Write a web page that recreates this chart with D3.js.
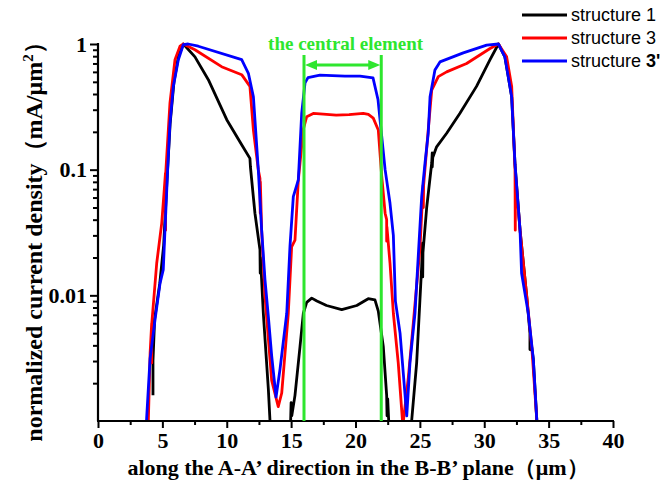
<!DOCTYPE html>
<html>
<head>
<meta charset="utf-8">
<script src="https://cdn.jsdelivr.net/npm/d3@7/dist/d3.min.js"></script>
<style>
  html, body { margin: 0; padding: 0; background: #fff; }
  svg { display: block; }
</style>
</head>
<body>
<svg id="chart" width="663" height="486"></svg>
<script>
// ---- data (x in µm, normalized current density) ----
const seriesNames = ["structure 1", "structure 3", "structure 3'"];
const seriesColors = ["#000000", "#ff0000", "#0000ff"];

const structure1 = [
  [4.27,0.0016],[4.27,0.003],[4.4,0.0065],[4.8,0.0125],[5.1,0.025],[5.35,0.08],[5.6,0.23],[5.9,0.5],[6.25,0.8],[6.63,1.0],
  [7.53,0.79],[8.57,0.52],[10.0,0.25],[11.16,0.158],[11.8,0.123],[11.84,0.105],[12.19,0.045],[12.58,0.023],[12.6,0.015],[12.62,0.02],
  [12.84,0.0072],[13.23,0.0018],[13.36,0.001],[13.4,0.0009],
  [14.95,0.0009],[15.0,0.0014],[15.05,0.0011],[15.3,0.0016],[15.69,0.0039],[15.95,0.0072],[16.21,0.0088],[16.6,0.0095],
  [17.0,0.009],[17.75,0.0083],[18.93,0.0077],[20.1,0.0083],[20.99,0.0094],[21.51,0.0092],[21.77,0.0075],[22.16,0.0039],
  [22.42,0.0016],[22.45,0.0011],[22.5,0.0015],[22.6,0.0009],
  [24.3,0.0009],[24.36,0.001],[24.75,0.0029],[25.14,0.017],[25.2,0.026],[25.22,0.014],[25.24,0.022],[25.53,0.05],[25.92,0.113],
  [25.96,0.136],[25.96,0.105],[26.0,0.125],[26.3,0.152],[27.08,0.195],[28.1,0.28],[29.4,0.46],[30.45,0.75],[31.1,1.0],
  [31.6,0.79],[32.13,0.38],[32.39,0.11],[32.78,0.033],[33.3,0.0098],[33.55,0.005],[33.55,0.0037],[33.6,0.0045],[33.81,0.0031],
  [34.07,0.00107],[34.1,0.0009]
];

const structure3 = [
  [3.88,0.0009],[3.91,0.001],[4.05,0.0035],[4.17,0.006],[4.17,0.0029],[4.18,0.006],[4.56,0.018],[4.95,0.0376],[5.15,0.07],
  [5.24,0.094],[5.25,0.033],[5.26,0.094],[5.59,0.34],[5.98,0.75],[6.37,0.96],[6.63,1.0],[7.53,0.9],[9.6,0.66],[11.16,0.57],
  [11.8,0.46],[12.07,0.207],[12.45,0.1],[12.58,0.085],[12.6,0.045],[12.61,0.08],[12.71,0.033],[12.97,0.0098],[13.49,0.0021],
  [14.0,0.0013],[14.27,0.00167],[14.78,0.0072],[15.04,0.0243],[15.3,0.0275],[15.56,0.083],[15.69,0.113],[15.95,0.21],
  [16.21,0.264],[16.72,0.28],[17.5,0.277],[18.5,0.272],[19.5,0.274],[20.6,0.28],[21.0,0.275],[21.38,0.257],[21.77,0.207],
  [22.03,0.09],[22.3,0.045],[22.42,0.04],[22.42,0.027],[22.44,0.035],[22.68,0.018],[22.94,0.0072],[23.32,0.0029],[23.65,0.001],
  [23.71,0.00098],[24.1,0.0022],[24.49,0.006],[25.01,0.024],[25.25,0.075],[25.27,0.05],[25.29,0.075],[25.65,0.207],[25.92,0.43],
  [26.43,0.55],[27.08,0.6],[28.63,0.7],[30.45,0.92],[31.1,1.0],[31.74,0.79],[32.13,0.46],[32.39,0.1],[32.41,0.033],[32.43,0.09],
  [32.78,0.033],[33.3,0.0098],[33.69,0.0039],[34.07,0.00106],[34.1,0.0009]
];

const structure3p = [
  [3.75,0.0009],[3.78,0.00106],[4.04,0.0031],[4.43,0.0064],[4.82,0.0125],[5.07,0.016],[5.2,0.033],[5.41,0.1],[5.59,0.235],
  [5.85,0.46],[6.24,0.75],[6.63,0.99],[7.0,1.0],[7.79,0.96],[11.16,0.75],[11.68,0.585],[12.07,0.38],[12.45,0.1],[12.71,0.033],
  [12.97,0.0133],[13.23,0.0068],[13.49,0.0033],[13.83,0.00155],[14.14,0.0026],[14.66,0.0072],[14.91,0.0244],[15.17,0.061],
  [15.56,0.083],[15.82,0.28],[16.08,0.49],[16.31,0.54],[17.24,0.566],[19.18,0.556],[20.35,0.556],[21.36,0.537],[21.75,0.36],
  [21.98,0.21],[22.3,0.1],[22.68,0.054],[22.94,0.03],[23.1,0.009],[23.46,0.005],[23.98,0.0011],[24.23,0.0029],[24.62,0.0072],
  [25.14,0.061],[25.4,0.113],[25.65,0.195],[25.79,0.38],[26.17,0.62],[26.56,0.72],[28.37,0.85],[30.19,0.98],[31.1,1.0],
  [31.6,0.79],[32.13,0.38],[32.39,0.11],[32.78,0.033],[32.9,0.015],[33.42,0.0072],[33.81,0.0031],[34.07,0.00107],[34.1,0.0009]
];

const allSeries = [structure1, structure3, structure3p];

const xTicksMajor = [0, 5, 10, 15, 20, 25, 30, 35, 40];
const xTicksMinor = [2.5, 7.5, 12.5, 17.5, 22.5, 27.5, 32.5, 37.5];
const yTicksMajor = [1, 0.1, 0.01];
const yTickLabels = ["1", "0.1", "0.01"];
const yTicksMinor = [0.002,0.003,0.004,0.005,0.006,0.007,0.008,0.009,
                     0.02,0.03,0.04,0.05,0.06,0.07,0.08,0.09,
                     0.2,0.3,0.4,0.5,0.6,0.7,0.8,0.9];

const centralElement = [16, 22];
const centralLabel = "the central element";
const xTitle = "along the A-A\u2019 direction in the B-B\u2019 plane\uFF08\u03BCm\uFF09";
const yTitle = "normalized current density\uFF08mA/\u03BCm";

// ---- layout ----
const svg = d3.select("#chart");
const L = 98, R = 613, T = 44, B = 421;
const x = d3.scaleLinear().domain([0, 40]).range([L, R]);
const y = d3.scaleLog().domain([0.001, 1]).range([B, T]);
const serif = "'Liberation Serif', 'Times New Roman', serif";
const green = "#2ee62e";

svg.append("defs").append("clipPath").attr("id", "plotclip")
  .append("rect").attr("x", L).attr("y", T - 5).attr("width", R - L).attr("height", B - T + 5);

// curves
const line = d3.line().x(d => x(d[0])).y(d => y(d[1]));
const g = svg.append("g").attr("clip-path", "url(#plotclip)");
allSeries.forEach((s, i) => {
  g.append("path").datum(s)
    .attr("d", line)
    .attr("fill", "none")
    .attr("stroke", seriesColors[i])
    .attr("stroke-width", 2.8)
    .attr("stroke-linejoin", "round");
});

// axes
function styleAxis(sel) {
  sel.select(".domain").remove();
  sel.selectAll(".tick line").attr("stroke", "#000").attr("stroke-width", 2);
  sel.selectAll(".tick text").attr("font-family", serif).attr("font-weight", "bold")
    .attr("font-size", 22).attr("fill", "#000");
}
const xMinor = svg.append("g").attr("transform", `translate(0,${B})`)
  .call(d3.axisBottom(x).tickValues(xTicksMinor).tickSize(4).tickFormat(""));
styleAxis(xMinor);
const xMajor = svg.append("g").attr("transform", `translate(0,${B})`)
  .call(d3.axisBottom(x).tickValues(xTicksMajor).tickSize(7).tickPadding(4).tickFormat(d3.format("d")));
styleAxis(xMajor);

const yMinor = svg.append("g").attr("transform", `translate(${L},0)`)
  .call(d3.axisLeft(y).tickValues(yTicksMinor).tickSize(5).tickFormat(""));
styleAxis(yMinor);
const yMajor = svg.append("g").attr("transform", `translate(${L},0)`)
  .call(d3.axisLeft(y).tickValues(yTicksMajor).tickSize(8).tickPadding(3)
    .tickFormat((d, i) => yTickLabels[i]));
styleAxis(yMajor);

// axis lines
svg.append("line").attr("x1", L).attr("x2", L).attr("y1", T - 1).attr("y2", B)
  .attr("stroke", "#000").attr("stroke-width", 2.2);
svg.append("line").attr("x1", L - 1).attr("x2", R + 1).attr("y1", B).attr("y2", B)
  .attr("stroke", "#000").attr("stroke-width", 2.2);

// axis titles
svg.append("text").attr("x", 358).attr("y", 475).attr("text-anchor", "middle")
  .attr("font-family", serif).attr("font-weight", "bold").attr("font-size", 22)
  .text(xTitle);

const yt = svg.append("text").attr("transform", "translate(42,236) rotate(-90)")
  .attr("text-anchor", "middle")
  .attr("font-family", serif).attr("font-weight", "bold").attr("font-size", 24);
yt.append("tspan").text(yTitle);
yt.append("tspan").attr("dy", -9).attr("font-size", 15).text("2");
yt.append("tspan").attr("dy", 9).text("\uFF09");

// central element annotation
const cx0 = x(centralElement[0]), cx1 = x(centralElement[1]);
[cx0, cx1].forEach(cx => {
  svg.append("line").attr("x1", cx).attr("x2", cx).attr("y1", 55).attr("y2", B)
    .attr("stroke", green).attr("stroke-width", 3);
});
const ay = 65;
svg.append("line").attr("x1", cx0 + 8).attr("x2", cx1 - 8).attr("y1", ay).attr("y2", ay)
  .attr("stroke", green).attr("stroke-width", 3);
svg.append("path").attr("d", `M${cx0 + 1},${ay} L${cx0 + 13},${ay - 5} L${cx0 + 13},${ay + 5} Z`).attr("fill", green);
svg.append("path").attr("d", `M${cx1 - 1},${ay} L${cx1 - 13},${ay - 5} L${cx1 - 13},${ay + 5} Z`).attr("fill", green);
svg.append("text").attr("x", (cx0 + cx1) / 2 + 3).attr("y", 50).attr("text-anchor", "middle")
  .attr("font-family", serif).attr("font-weight", "bold").attr("font-size", 19)
  .attr("fill", green).text(centralLabel);

// legend
const legY = [15, 38, 61];
const sans = "'Liberation Sans', Arial, sans-serif";
seriesNames.forEach((name, i) => {
  svg.append("line").attr("x1", 522).attr("x2", 567).attr("y1", legY[i]).attr("y2", legY[i])
    .attr("stroke", seriesColors[i]).attr("stroke-width", 2.8);
  const t = svg.append("text").attr("x", 571).attr("y", legY[i] + 6)
    .attr("font-family", sans).attr("font-size", 18).attr("fill", "#000");
  if (i === 2) {
    t.append("tspan").text("structure ");
    t.append("tspan").attr("font-weight", "bold").text("3'");
  } else {
    t.text(name);
  }
});
</script>
</body>
</html>
